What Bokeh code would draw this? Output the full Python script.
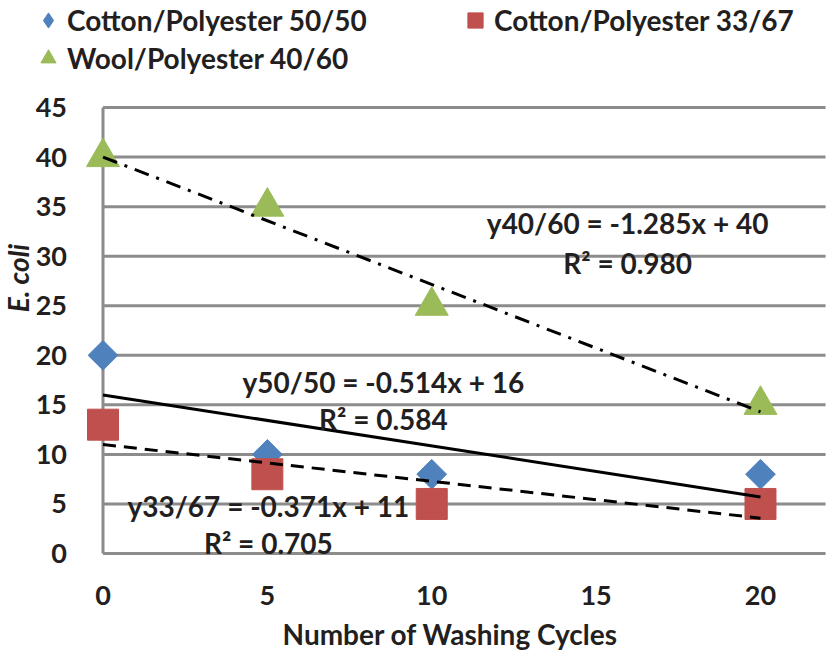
import math

from bokeh.plotting import figure
from bokeh.models import Range1d, FixedTicker, Legend, LegendItem, Label
from bokeh.embed import file_html
from bokeh.resources import INLINE

FONT = "Lato"
INK = "#231f20"
GRID = "#8c8c8c"

# number of washing cycles and E. coli counts per fabric
washing_cycles = [0, 5, 10, 20]
cotton_poly_5050 = [20, 10, 8, 8]
cotton_poly_3367 = [13, 8, 5, 5]
wool_poly_4060 = [40, 35, 25, 15]

# linear trendlines (ends at 0 and 20 washes)
trend_x = [0, 20]
trend_5050 = [16, 5.71]
trend_3367 = [11, 3.57]
trend_4060 = [40, 14.3]

x_ticks = [0, 5, 10, 15, 20]
y_ticks = [0, 5, 10, 15, 20, 25, 30, 35, 40, 45]
GRID_END = 21.98

# the frame covers the whole canvas, axes are pinned inside it
p = figure(width=830, height=655,
           x_range=Range1d(-3.118, 22.13), y_range=Range1d(-10.29, 55.8),
           output_backend="svg", toolbar_location=None,
           min_border_left=0, min_border_right=0,
           min_border_top=0, min_border_bottom=0)
p.outline_line_color = None
p.xgrid.visible = False
p.ygrid.visible = False

# horizontal gridlines start at the y axis (x = 0)
p.segment(x0=x_ticks[0], x1=GRID_END, y0=y_ticks, y1=y_ticks,
          line_color=GRID, line_width=3)
p.segment(x0=[x_ticks[0]], x1=[x_ticks[0]], y0=[y_ticks[0]], y1=[y_ticks[-1]],
          line_color=GRID, line_width=3)

for ax in (p.xaxis[0], p.yaxis[0]):
    ax.axis_line_color = None
    ax.major_tick_line_color = None
    ax.minor_tick_line_color = None
    ax.major_label_text_font = FONT
    ax.major_label_text_font_size = "27px"
    ax.major_label_text_font_style = "bold"
    ax.major_label_text_color = INK

p.xaxis.ticker = FixedTicker(ticks=x_ticks)
p.yaxis.ticker = FixedTicker(ticks=y_ticks)
p.xaxis.fixed_location = 0
p.yaxis.fixed_location = 0
p.xaxis.major_label_standoff = 26
p.yaxis.major_label_standoff = 30

r_5050 = p.scatter(washing_cycles, cotton_poly_5050, marker="square",
                   angle=math.pi / 4, size=21, color="#4f81bd")
r_3367 = p.scatter(washing_cycles, cotton_poly_3367, marker="square",
                   size=31, color="#c0504d")
r_4060 = p.scatter(washing_cycles, wool_poly_4060, marker="triangle",
                   size=33, color="#9bbb59")
# legend swatch only (legends draw markers unrotated); nothing shows in the plot
key_5050 = p.scatter([float("nan")], [float("nan")], marker="diamond",
                     color="#4f81bd")

p.line(trend_x, trend_5050, line_color="black", line_width=3)
p.line(trend_x, trend_3367, line_color="black", line_width=3,
       line_dash="13 8")
p.line(trend_x, trend_4060, line_color="black", line_width=3,
       line_dash="15 8 3 8")

legend = Legend(items=[
    LegendItem(label="Cotton/Polyester 50/50", renderers=[key_5050]),
    LegendItem(label="Cotton/Polyester 33/67", renderers=[r_3367]),
    LegendItem(label="Wool/Polyester 40/60", renderers=[r_4060]),
], location=(29, 578), orientation="horizontal", ncols=2)
legend.margin = 0
legend.padding = 0
legend.spacing = 0
legend.glyph_width = 38
legend.glyph_height = 38
legend.label_standoff = 0
legend.label_width = 389
legend.label_text_font = FONT
legend.label_text_font_size = "28px"
legend.label_text_font_style = "bold"
legend.label_text_color = INK
legend.border_line_color = None
legend.background_fill_alpha = 0
p.add_layout(legend, "center")


def text(x, y, s, style="bold", angle=0.0):
    p.add_layout(Label(x=x, y=y, text=s, text_align="center",
                       text_baseline="middle", text_font=FONT,
                       text_font_size="28px", text_font_style=style,
                       text_color=INK, angle=angle))


# trendline equations
text(15.96, 33.3, "y40/60 = -1.285x + 40")
text(15.96, 29.36, "R² = 0.980")
text(8.53, 17.26, "y50/50 = -0.514x + 16")
text(8.53, 13.62, "R² = 0.584")
text(5.03, 4.84, "y33/67 = -0.371x + 11")
text(5.03, 1.11, "R² = 0.705")

# axis titles
text(10.57, -8.1, "Number of Washing Cycles")
text(-2.58, 27.8, "E. coli", style="bold italic", angle=math.pi / 2)

open("out.html", "w").write(file_html(p, INLINE))
